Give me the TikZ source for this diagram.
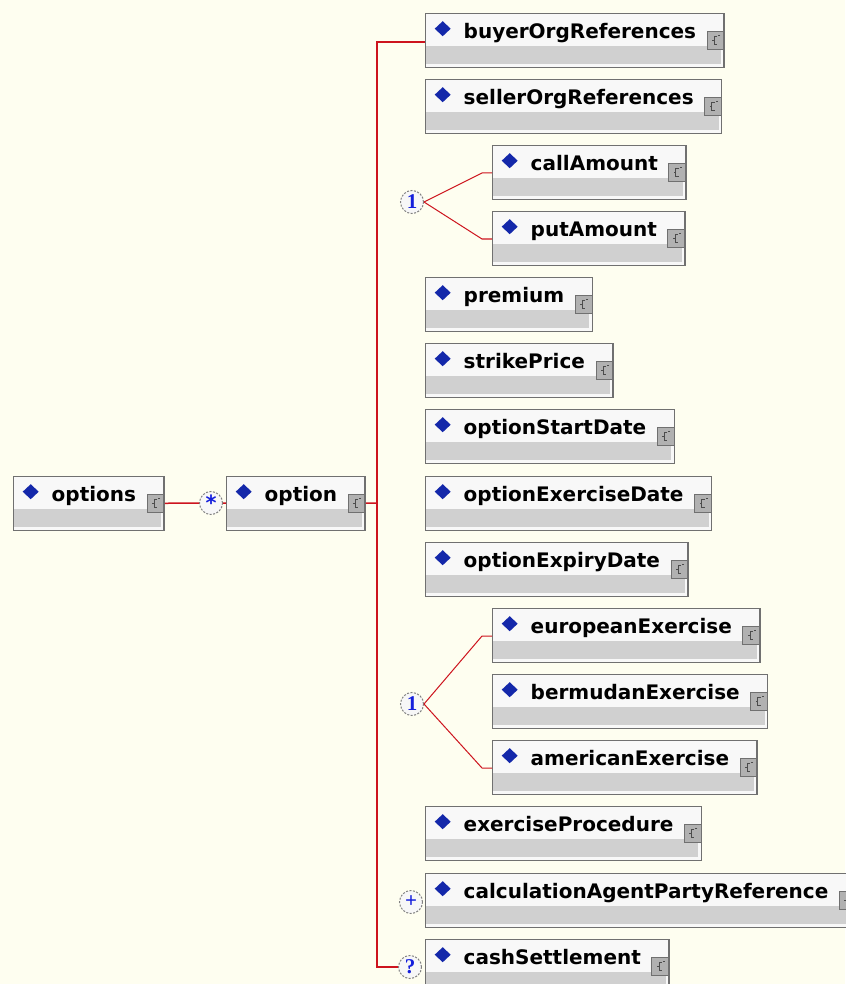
\documentclass[tikz,border=0pt]{standalone}
\usepackage{fontspec}
\usepackage{tikz}
\newfontfamily\dvsans{DejaVu Sans}
\newfontfamily\lbserif{Liberation Serif}
\newcommand{\elfont}{\dvsans\bfseries\fontsize{20}{24}\selectfont}
\newcommand{\cpfont}{\lbserif\bfseries\fontsize{21}{22}\selectfont}
\definecolor{paper}{RGB}{254,254,240}
\definecolor{boxedge}{RGB}{112,112,112}
\definecolor{boxtop}{RGB}{248,248,248}
\definecolor{band}{RGB}{208,208,208}
\definecolor{gem}{RGB}{20,40,170}
\definecolor{wire}{RGB}{205,20,30}
\definecolor{cpblue}{RGB}{20,30,220}
\tikzset{
  elem/.style={rectangle, anchor=north west, draw=boxedge, line width=1.4pt,
    fill=boxtop, inner xsep=0pt, inner ysep=5pt, text height=20pt,
    text depth=24pt, font=\elfont,
    execute at begin node={\hspace*{38pt}},
    execute at end node={\hspace*{28pt}},
    path picture={
      \fill[band] ([yshift=-32pt]path picture bounding box.north west)
        rectangle ([xshift=-3pt,yshift=4pt]path picture bounding box.south east);
      \fill[gem] ([xshift=9pt,yshift=-15pt]path picture bounding box.north west)
        -- ++(8pt,7.5pt) -- ++(8pt,-7.5pt) -- ++(-8pt,-7.5pt) -- cycle;
      \draw[boxedge, fill=band!85!black, line width=1pt]
        ([xshift=-17pt,yshift=-18pt]path picture bounding box.north east)
        rectangle ([yshift=-36pt]path picture bounding box.north east);
      \draw[black!70, line width=.8pt]
        ([xshift=-7pt,yshift=-23pt]path picture bounding box.north east)
        -- ++(-3pt,0) -- ++(0,-8pt) -- ++(3pt,0)
        ([xshift=-10pt,yshift=-27pt]path picture bounding box.north east) -- ++(-2pt,0)
        ([xshift=-4pt,yshift=-22pt]path picture bounding box.north east) -- ++(-2pt,0);
    }},
  compo/.style={circle, draw=gray, dashed, dash pattern=on 2pt off 1.5pt,
    fill=white!94!gray, line width=1pt, minimum size=23pt, inner sep=0pt,
    font=\cpfont, text=cpblue},
  link/.style={draw=wire, line width=1.5pt},
  fork/.style={draw=wire, line width=1pt},
}

\begin{document}
\begin{tikzpicture}[x=1pt,y=-1pt]
  \useasboundingbox[fill=paper] (0,0) rectangle (845,984);
  % root and its child
  \node[elem] (opts)    at ( 13,476) {options};
  \node[compo] (many)   at (211,503) {\raisebox{-6pt}{\dvsans\bfseries *}};
  \node[elem] (opt)     at (226,476) {option};
  % sequence of children
  \node[elem] (buyer)   at (425, 13) {buyerOrgReferences};
  \node[elem] (seller)  at (425, 79) {sellerOrgReferences};
  \node[elem] (call)    at (492,145) {callAmount};
  \node[elem] (put)     at (492,211) {putAmount};
  \node[elem] (premium) at (425,277) {premium};
  \node[elem] (strike)  at (425,343) {strikePrice};
  \node[elem] (start)   at (425,409) {optionStartDate};
  \node[elem] (exer)    at (425,476) {optionExerciseDate};
  \node[elem] (expiry)  at (425,542) {optionExpiryDate};
  \node[elem] (euro)    at (492,608) {europeanExercise};
  \node[elem] (bermuda) at (492,674) {bermudanExercise};
  \node[elem] (amer)    at (492,740) {americanExercise};
  \node[elem] (proc)    at (425,806) {exerciseProcedure};
  \node[elem] (agent)   at (425,873) {calculationAgentPartyReference};
  \node[elem] (cash)    at (425,939) {cashSettlement};
  % compositors
  \node[compo] (pick)   at (412,202) {1};
  \node[compo] (style)  at (412,704) {1};
  \node[compo] (more)   at (411,902) {+};
  \node[compo] (quest)  at (410,967) {?};
  % connectors
  \coordinate (spine) at (377,503);
  \draw[link] (opts) -- (many);
  \draw[link] (many) -- (opt);
  \draw[link] (opt) -- (spine);
  \draw[link] ([yshift=-29pt]buyer.north west) -| (spine) |- (quest);
  \draw[fork] (pick.east) -- ([xshift=-10pt,yshift=-28pt]call.north west)
    -- ([yshift=-28pt]call.north west);
  \draw[fork] (pick.east) -- ([xshift=-10pt,yshift=-28pt]put.north west)
    -- ([yshift=-28pt]put.north west);
  \draw[fork] (style.east) -- ([xshift=-10pt,yshift=-28pt]euro.north west)
    -- ([yshift=-28pt]euro.north west);
  \draw[fork] (style.east) -- ([xshift=-10pt,yshift=-28pt]amer.north west)
    -- ([yshift=-28pt]amer.north west);
\end{tikzpicture}
\end{document}
